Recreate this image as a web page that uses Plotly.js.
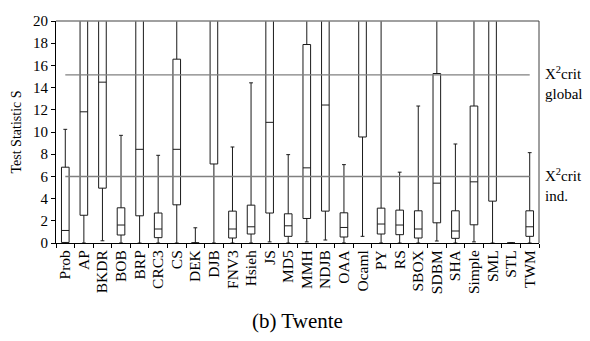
<!DOCTYPE html>
<html>
<head>
<meta charset="utf-8">
<script src="https://cdn.plot.ly/plotly-3.0.1.min.js"></script>
<style>body{margin:0;padding:0;background:#fff;}#chart{width:590px;height:341px;}</style>
</head>
<body>
<div id="chart"></div>
<script>
const categories = ["Prob","AP","BKDR","BOB","BRP","CRC3","CS","DEK","DJB","FNV3","Hsieh","JS","MD5","MMH","NDJB","OAA","Ocaml","PY","RS","SBOX","SDBM","SHA","Simple","SML","STL","TWM"];
const lowerWhisker = [0, 0, 0.2, 0, 0, 0, 0, 0, 0, 0, 0, 0.1, 0, 0.1, 0.27, 0, 0.6, 0, 0, 0, 0.18, 0, 0.1, 0, 0, 0];
const q1Values     = [0.05, 2.5, 4.94, 0.72, 2.45, 0.48, 3.44, 0, 7.12, 0.45, 0.81, 2.7, 0.6, 2.21, 2.87, 0.54, 9.55, 0.81, 0.75, 0.45, 1.82, 0.42, 1.64, 3.77, 0, 0.6];
const medianValues = [1.13, 11.82, 14.49, 1.62, 8.44, 1.26, 8.44, 0, 22, 1.26, 1.46, 10.87, 1.55, 6.77, 12.43, 1.4, 22, 1.71, 1.62, 1.26, 5.39, 1.08, 5.51, 22, 0, 1.46];
const q3Values     = [6.83, 30, 30, 3.17, 30, 2.7, 16.56, 0, 30, 2.87, 3.41, 30, 2.63, 17.88, 30, 2.72, 30, 3.14, 2.96, 2.9, 15.27, 2.9, 12.34, 30, 0, 2.9];
const upperWhisker = [10.24, 40, 40, 9.7, 40, 7.9, 40, 1.37, 40, 8.65, 14.43, 40, 7.96, 40, 40, 7.06, 40, 40, 6.38, 12.34, 40, 8.92, 40, 40, 0, 8.14];
const critInd = 5.99;
const critGlobal = 15.15;
const yTicks = [0,2,4,6,8,10,12,14,16,18,20];

const serif = "Liberation Serif, Times New Roman, serif";

const trace = {
  type: 'box',
  x: categories,
  q1: q1Values,
  median: medianValues,
  q3: q3Values,
  lowerfence: lowerWhisker,
  upperfence: upperWhisker,
  width: 0.41,
  whiskerwidth: 0.5,
  boxpoints: false,
  fillcolor: 'rgba(255,255,255,0)',
  line: {color: '#1a1a1a', width: 1},
  hoverinfo: 'skip',
  showlegend: false
};

const lastIdx = categories.length - 1;
const layout = {
  width: 590, height: 341,
  margin: {l: 56, r: 51, t: 21, b: 98},
  paper_bgcolor: '#fff', plot_bgcolor: '#fff',
  font: {family: serif, size: 14, color: '#000'},
  showlegend: false,
  xaxis: {
    type: 'category',
    categoryorder: 'array', categoryarray: categories,
    tickmode: 'linear', tick0: 0, dtick: 1,
    tickangle: -90,
    tickson: 'boundaries',
    ticks: 'outside', ticklen: 4, tickcolor: '#000',
    showline: true, linecolor: '#000', linewidth: 1,
    showgrid: false, zeroline: false,
    tickfont: {family: serif, size: 15.5, color: '#000'},
    range: [-0.5, lastIdx + 0.5]
  },
  yaxis: {
    range: [0, 20],
    tickvals: yTicks,
    ticks: 'outside', ticklen: 4, tickcolor: '#000',
    showline: true, linecolor: '#000', linewidth: 1,
    showgrid: false, zeroline: false,
    tickfont: {family: serif, size: 15, color: '#000'},
    title: {text: 'Test Statistic S', font: {family: serif, size: 14, color: '#000'}, standoff: 8}
  },
  shapes: [
    {type: 'line', xref: 'x', yref: 'y', x0: 0, x1: lastIdx, y0: critGlobal, y1: critGlobal, line: {color: '#808080', width: 1.3}},
    {type: 'line', xref: 'x', yref: 'y', x0: 0, x1: lastIdx, y0: critInd, y1: critInd, line: {color: '#808080', width: 1.3}},
    {type: 'line', xref: 'paper', yref: 'paper', x0: 0, x1: 1, y0: 1, y1: 1, line: {color: '#808080', width: 1.3}},
    {type: 'line', xref: 'paper', yref: 'paper', x0: 1, x1: 1, y0: 0, y1: 1, line: {color: '#404040', width: 1}}
  ],
  annotations: [
    {xref: 'paper', yref: 'y', x: 1.008, y: critGlobal, yshift: -8, xanchor: 'left', yanchor: 'middle', align: 'left', showarrow: false,
     text: 'X<sup>2</sup>crit<br>global', font: {family: serif, size: 15, color: '#000'}},
    {xref: 'paper', yref: 'y', x: 1.008, y: critInd, yshift: -8, xanchor: 'left', yanchor: 'middle', align: 'left', showarrow: false,
     text: 'X<sup>2</sup>crit<br>ind.', font: {family: serif, size: 15, color: '#000'}},
    {xref: 'paper', yref: 'paper', x: 0.5, y: -0.35, xanchor: 'center', yanchor: 'middle', showarrow: false,
     text: '(b) Twente', font: {family: serif, size: 21, color: '#000'}}
  ]
};

Plotly.newPlot('chart', [trace], layout, {staticPlot: true, displayModeBar: false});
</script>
</body>
</html>
